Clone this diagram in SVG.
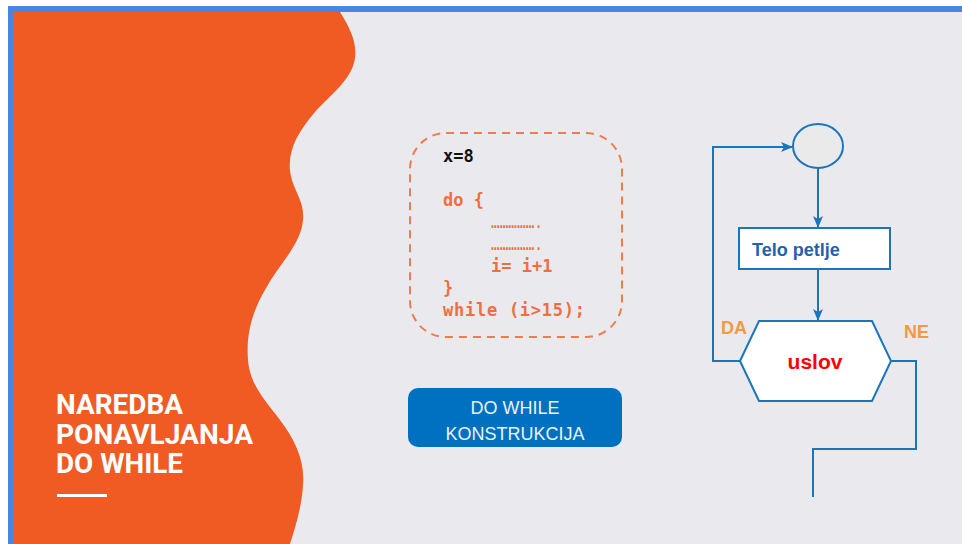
<svg xmlns="http://www.w3.org/2000/svg" width="962" height="544" viewBox="0 0 962 544">
  <style>
    .code { font-family: "DejaVu Sans Mono", "Liberation Mono", monospace; font-size: 17px; font-weight: bold; fill: #F06E3E; }
    .title { font-family: Roboto, "Liberation Sans", sans-serif; font-weight: bold; font-size: 27px; fill: #FFFFFF; }
    .flow { fill: none; stroke: #1B75BB; stroke-width: 2; }
    .lbl { font-family: "Liberation Sans", Arial, sans-serif; font-weight: bold; }
  </style>
  <defs>
    <marker id="arrow" viewBox="0 0 12 10" refX="11" refY="5" markerWidth="12" markerHeight="10" markerUnits="userSpaceOnUse" orient="auto">
      <path d="M0,0 L12,5 L0,10 L3,5 Z" fill="#1B75BB"/>
    </marker>
  </defs>

  <!-- page and frame -->
  <rect x="0" y="0" width="962" height="544" fill="#FFFFFF"/>
  <rect x="8" y="6" width="954" height="538" fill="#EAE9EE"/>
  <rect x="8" y="6" width="954" height="6" fill="#4A86E0"/>
  <rect x="8" y="6" width="5" height="538" fill="#4A86E0"/>

  <!-- wavy orange side panel -->
  <path d="M13,12 H340 C350,28 357,42 355,58 C352,80 330,95 315,112 C298,132 288,150 290,170 C292,190 305,200 303,220 C301,245 278,265 265,290 C252,312 246,335 248,360 C250,385 265,400 280,420 C295,440 305,460 303,485 C302,505 296,525 290,544 H13 Z" fill="#F05B24"/>

  <g id="title">
    <text class="title" x="56" y="414" textLength="127" lengthAdjust="spacingAndGlyphs">NAREDBA</text>
    <text class="title" x="56" y="444" textLength="197" lengthAdjust="spacingAndGlyphs">PONAVLJANJA</text>
    <text class="title" x="56" y="473" textLength="127" lengthAdjust="spacingAndGlyphs">DO WHILE</text>
    <rect x="57" y="494" width="50" height="3" fill="#FFFFFF"/>
  </g>

  <g id="code-box">
    <rect x="410" y="133" width="212" height="204" rx="36" ry="36" fill="none" stroke="#F07B4B" stroke-width="2" stroke-dasharray="8,6"/>
    <text class="code" x="443" y="162" style="fill:#111111">x=8</text>
    <text class="code" x="443" y="206">do {</text>
    <text class="code" x="491" y="228" font-size="9" style="font-weight:normal" textLength="52" lengthAdjust="spacingAndGlyphs">…………….</text>
    <text class="code" x="491" y="250" font-size="9" style="font-weight:normal" textLength="52" lengthAdjust="spacingAndGlyphs">…………….</text>
    <text class="code" x="491" y="272">i= i+1</text>
    <text class="code" x="443" y="294">}</text>
    <text class="code" x="443" y="316" textLength="142">while (i&gt;15);</text>
  </g>

  <g id="caption">
    <rect x="408" y="388" width="214" height="59" rx="10" ry="10" fill="#0070C0"/>
    <text class="lbl" x="515" y="414" text-anchor="middle" font-size="18" style="font-weight:normal" fill="#EAF2FA">DO WHILE</text>
    <text class="lbl" x="515" y="440" text-anchor="middle" font-size="18" style="font-weight:normal" fill="#EAF2FA">KONSTRUKCIJA</text>
  </g>

  <g id="connectors">
    <path class="flow" d="M818,168 V227" marker-end="url(#arrow)"/>
    <path class="flow" d="M818,269 V320" marker-end="url(#arrow)"/>
    <path class="flow" d="M740,361 H713 V147 H792" marker-end="url(#arrow)"/>
    <path class="flow" d="M891,361 H916 V449 H813 V497"/>
  </g>

  <g id="start">
    <ellipse cx="818" cy="146" rx="25" ry="22" fill="#EAEAEA" stroke="#1B75BB" stroke-width="2"/>
  </g>

  <g id="body">
    <rect x="739" y="228" width="151" height="41" fill="#FFFFFF" stroke="#1B75BB" stroke-width="2"/>
    <text class="lbl" x="752" y="256" font-size="18" fill="#1F63B0">Telo petlje</text>
  </g>

  <g id="condition">
    <polygon points="740,361 759,321 872,321 891,361 872,401 759,401" fill="#FFFFFF" stroke="#1B75BB" stroke-width="2"/>
    <text class="lbl" x="815" y="369" text-anchor="middle" font-size="21" fill="#FF0000">uslov</text>
  </g>

  <g id="branch-labels">
    <text class="lbl" x="721" y="334" font-size="18" fill="#F39A3C">DA</text>
    <text class="lbl" x="904" y="338" font-size="18" fill="#F39A3C">NE</text>
  </g>
</svg>
